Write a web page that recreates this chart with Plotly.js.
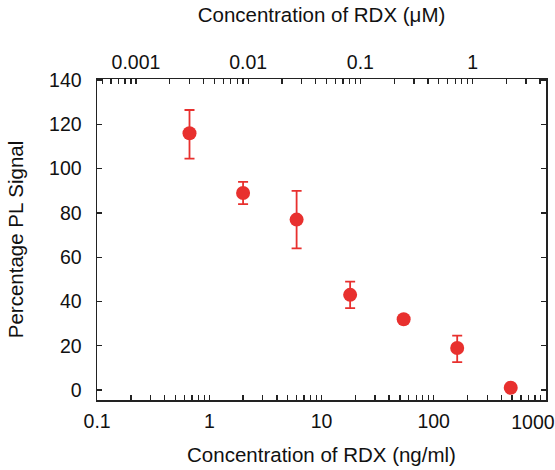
<!DOCTYPE html>
<html>
<head>
<meta charset="utf-8">
<script src="https://cdn.plot.ly/plotly-3.0.1.min.js"></script>
<style>html,body{margin:0;padding:0;background:#fff;}#chart{width:555px;height:470px;}</style>
</head>
<body>
<div id="chart"></div>
<script>
// Data
const concNgMl = [0.666, 2.0, 6.0, 18.0, 54.0, 162.0, 486.0];
const pctSignal = [116, 89, 77, 43, 32, 19, 1];
const errPlus  = [10.5, 5, 13, 6, 1, 5.6, 0];
const errMinus = [11.5, 5, 13, 6, 1, 6.4, 0];
const rdxMolarMass = 222.12; // ng/ml per µM

const bottomMajor = [0.1, 1, 10, 100];
const bottomEdgeLabel = [1000];   // drawn on a helper axis, nudged left to fit the page
const topMajor = [0.001, 0.01, 0.1, 1];
const yTicks = [0, 20, 40, 60, 80, 100, 120, 140];

function logTicks(minDec, maxDec, lo, hi, majors) {
  const vals = [], text = [];
  for (let d = minDec; d <= maxDec; d++) {
    for (let m = 1; m <= 9; m++) {
      const v = m * Math.pow(10, d);
      if (v < lo * 0.999 || v > hi * 1.001) continue;
      vals.push(v);
      const lab = majors.find(t => Math.abs(t - v) / t < 1e-6);
      text.push(lab !== undefined ? String(lab) : '');
    }
  }
  return {vals, text};
}

const xLo = 0.1, xHi = 1000;
const bt = logTicks(-1, 3, xLo, xHi, bottomMajor);
const tLo = xLo / rdxMolarMass, tHi = xHi / rdxMolarMass;
const tt = logTicks(-4, 0, tLo, tHi, topMajor);
const pad = 0.001;

const red = '#e8302e';
const font = {family: 'Liberation Sans, Arial, sans-serif', color: '#111'};
const tickSize = 19.5, titleSize = 20.5;

const traces = [
  {
    x: concNgMl, y: pctSignal, type: 'scatter', mode: 'markers',
    xaxis: 'x', yaxis: 'y',
    marker: {color: red, size: 14},
    error_y: {type: 'data', symmetric: false, array: errPlus, arrayminus: errMinus,
              color: red, thickness: 1.8, width: 5},
    hoverinfo: 'x+y', showlegend: false
  },
  {
    x: concNgMl.map(v => v / rdxMolarMass), y: pctSignal, type: 'scatter', mode: 'markers',
    xaxis: 'x2', yaxis: 'y',
    marker: {color: red, size: 14, opacity: 0},
    hoverinfo: 'skip', showlegend: false
  },
  {
    x: concNgMl, y: pctSignal, type: 'scatter', mode: 'markers',
    xaxis: 'x3', yaxis: 'y',
    marker: {color: red, size: 14, opacity: 0},
    hoverinfo: 'skip', showlegend: false
  }
];

const axCommon = {
  showline: true, linecolor: '#222', linewidth: 1.5,
  ticks: 'inside', ticklen: 5, tickwidth: 1.3, tickcolor: '#222',
  showgrid: false, zeroline: false, ticklabeloverflow: 'allow',
  tickfont: Object.assign({size: tickSize}, font)
};

const layout = {
  width: 555, height: 470,
  margin: {l: 97, r: 9, t: 79, b: 70},
  paper_bgcolor: '#fff', plot_bgcolor: '#fff',
  font: font,
  xaxis: Object.assign({}, axCommon, {
    type: 'log', range: [Math.log10(xLo) - pad, Math.log10(xHi) + pad],
    tickmode: 'array', tickvals: bt.vals, ticktext: bt.text,
    mirror: true, ticklabelstandoff: 3,
    title: {text: 'Concentration of RDX (ng/ml)', font: Object.assign({size: titleSize}, font), standoff: 16}
  }),
  xaxis3: Object.assign({}, axCommon, {
    type: 'log', range: [Math.log10(xLo) - pad, Math.log10(xHi) + pad],
    overlaying: 'x', side: 'bottom', anchor: 'y',
    tickmode: 'array', tickvals: bottomEdgeLabel, ticktext: bottomEdgeLabel.map(String),
    showline: false, tickcolor: 'rgba(0,0,0,0)', ticklabelstandoff: 8, ticklabelshift: -13
  }),
  xaxis2: Object.assign({}, axCommon, {
    type: 'log', range: [Math.log10(tLo) - pad, Math.log10(tHi) + pad],
    overlaying: 'x', side: 'top', anchor: 'y',
    tickmode: 'array', tickvals: tt.vals, ticktext: tt.text,
    showline: false, ticklabelstandoff: 5,
    title: {text: 'Concentration of RDX (μM)', font: Object.assign({size: titleSize}, font), standoff: 22}
  }),
  yaxis: Object.assign({}, axCommon, {
    range: [-4.5, 140.5], tickmode: 'array',
    tickvals: yTicks,
    mirror: 'ticks', ticklabelstandoff: 10,
    title: {text: 'Percentage PL Signal', font: Object.assign({size: titleSize}, font), standoff: 20}
  })
};

Plotly.newPlot('chart', traces, layout, {displayModeBar: false, staticPlot: true});
</script>
</body>
</html>
